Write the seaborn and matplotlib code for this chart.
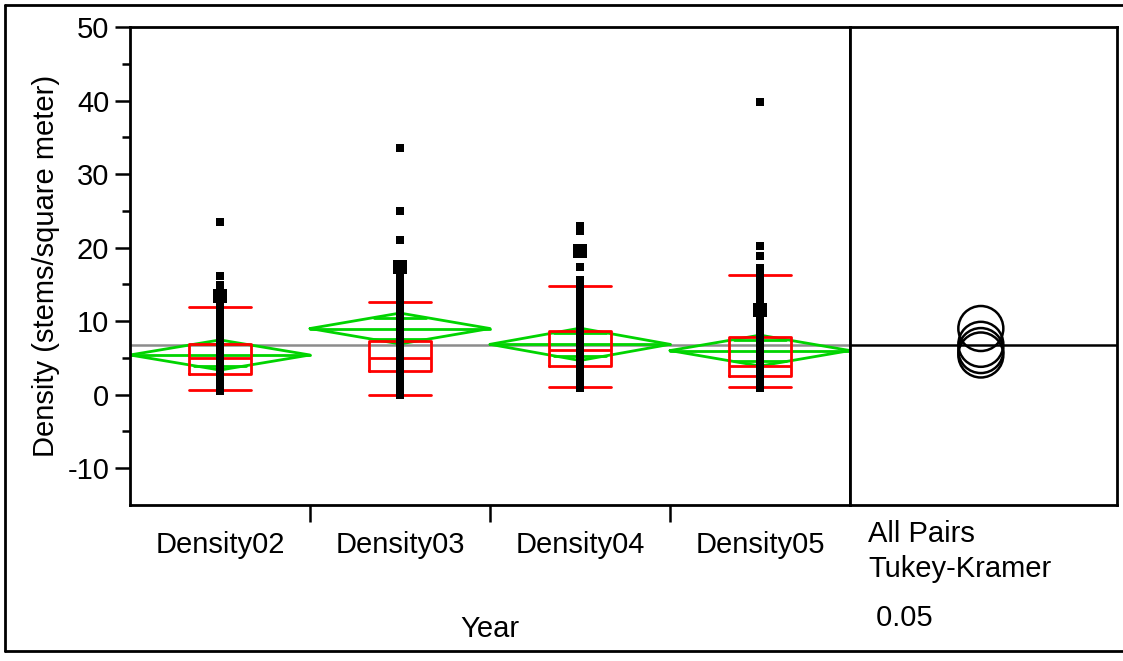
import numpy as np
import pandas as pd
import matplotlib.pyplot as plt
from matplotlib.lines import Line2D
from matplotlib.ticker import FixedLocator
import seaborn as sns

years = ['Density02', 'Density03', 'Density04', 'Density05']

# stem densities (small squares)
pts02 = [0.5, 0.9, 1.3, 1.6, 2.0, 2.4, 2.7, 3.1, 3.5, 3.8, 4.2, 4.6, 5.0, 5.3,
         5.7, 6.1, 6.5, 6.9, 7.3, 7.7, 8.1, 8.6, 9.0, 9.5, 10.0, 10.4, 10.9,
         11.4, 11.9, 12.3, 12.8, 14.0, 14.3, 14.9, 16.1, 23.5]
pts03 = [-0.1, 0.3, 0.7, 1.1, 1.5, 1.9, 2.3, 2.7, 3.1, 3.5, 3.9, 4.3, 4.7, 5.1,
         5.5, 5.9, 6.3, 6.7, 7.1, 7.5, 7.9, 8.3, 8.7, 9.1, 9.5, 9.9, 10.3, 10.7,
         11.1, 11.5, 11.9, 12.3, 12.8, 13.3, 13.8, 14.3, 14.8, 15.3, 15.7, 16.1,
         21.0, 25.0, 33.6]
pts04 = [0.9, 1.3, 1.7, 2.1, 2.5, 2.9, 3.3, 3.7, 4.1, 4.5, 4.9, 5.3, 5.7, 6.1,
         6.5, 6.9, 7.3, 7.7, 8.1, 8.5, 8.9, 9.3, 9.7, 10.1, 10.5, 10.9, 11.3,
         11.7, 12.1, 12.5, 12.9, 13.4, 13.9, 14.4, 14.9, 15.3, 15.6, 17.3,
         22.3, 22.9]
pts05 = [0.9, 1.3, 1.7, 2.1, 2.5, 2.9, 3.3, 3.7, 4.1, 4.5, 4.9, 5.3, 5.7, 6.1,
         6.5, 6.9, 7.3, 7.7, 8.1, 8.5, 8.9, 9.3, 9.7, 10.1, 10.5, 10.9, 11.3,
         11.7, 12.1, 12.5, 12.9, 13.4, 13.9, 14.4, 14.9, 15.4, 15.9, 16.4,
         16.8, 17.2, 18.8, 20.2, 39.8]
# values shown as large squares
big_pts = [13.4, 17.3, 19.5, 11.5]

# box plot summaries
box_low = [0.7, 0.0, 1.0, 1.05]
box_q1 = [2.8, 3.25, 3.95, 2.5]
box_med = [5.0, 5.0, 6.1, 3.85]
box_q3 = [6.9, 7.25, 8.7, 7.9]
box_high = [11.9, 12.6, 14.8, 16.25]

# means diamonds (mean, 95% CI half width)
means = [5.4, 9.0, 6.85, 6.0]
ci_half = [2.05, 2.1, 2.2, 2.1]
grand_mean = 6.8

sns.set_theme(style='white')
plt.rcParams['font.family'] = ['Liberation Sans', 'DejaVu Sans']
plt.rcParams.update({'font.size': 21, 'text.color': 'black',
                     'axes.labelcolor': 'black', 'xtick.color': 'black',
                     'ytick.color': 'black', 'axes.unicode_minus': False})

W, H = 1123, 661
fig = plt.figure(figsize=(W / 100, H / 100), dpi=100)
ax = fig.add_axes([130 / W, 156 / H, 720 / W, 478 / H])
ax2 = fig.add_axes([850 / W, 156 / H, 267 / W, 478 / H])

all_pts = [pts02, pts03, pts04, pts05]
pts = pd.DataFrame({'Year': np.repeat(years, [len(p) for p in all_pts]),
                    'Density': np.concatenate(all_pts)})
big = pd.DataFrame({'Year': years, 'Density': big_pts})
boxes = pd.DataFrame({'Year': np.repeat(years, 5),
                      'Density': np.column_stack([box_low, box_q1, box_med,
                                                  box_q3, box_high]).ravel()})

green = '#00d400'
ax.axhline(grand_mean, color='#8c8c8c', lw=1.8, zorder=1)
k = 1 / np.sqrt(2)
for i, (m, h) in enumerate(zip(means, ci_half)):
    ax.plot([i - .5, i, i + .5, i, i - .5], [m, m + h, m, m - h, m],
            color=green, lw=2, zorder=2)
    ax.plot([i - .5, i + .5], [m, m], color=green, lw=2, zorder=2)
    w = 0.5 * (1 - k)
    for s in (1, -1):
        ax.plot([i - w, i + w], [m + s * h * k] * 2, color=green, lw=2, zorder=2)

sns.boxplot(data=boxes, x='Year', y='Density', order=years, whis=(0, 100),
            fill=False, color='red', width=0.344, capwidths=0.344,
            linewidth=2, showfliers=False, zorder=3, ax=ax)
sns.stripplot(data=pts, x='Year', y='Density', order=years, jitter=False,
              marker='s', color='black', size=5.5, linewidth=0, zorder=5, ax=ax)
sns.stripplot(data=big, x='Year', y='Density', order=years, jitter=False,
              marker='s', color='black', size=9.5, linewidth=0, zorder=5, ax=ax)

ax.set_xlim(-0.5, 3.5)
ax.set_ylim(-15, 50)
ax.yaxis.set_major_locator(FixedLocator([-10, 0, 10, 20, 30, 40, 50]))
ax.yaxis.set_minor_locator(FixedLocator([-5, 5, 15, 25, 35, 45]))
ax.xaxis.set_minor_locator(FixedLocator([0.5, 1.5, 2.5]))
ax.tick_params(axis='y', which='major', left=True, length=11, width=1.8, pad=4, labelsize=21)
ax.tick_params(axis='y', which='minor', left=True, length=6, width=1.8)
ax.tick_params(axis='x', which='major', bottom=True, length=0, pad=19, labelsize=21)
ax.tick_params(axis='x', which='minor', bottom=True, length=12, width=1.8)
ax.set_ylabel('Density (stems/square meter)', fontsize=21, labelpad=5)
ax.set_xlabel('Year', fontsize=21, labelpad=40)

ax2.axhline(grand_mean, color='black', lw=1.8)
ax2.scatter([0.49] * len(means), means, s=1050, facecolors='none',
            edgecolors='black', linewidths=1.8, zorder=3)
ax2.set_xlim(0, 1)
ax2.set_ylim(-15, 50)
ax2.set_xticks([])
ax2.set_yticks([])

for a in (ax, ax2):
    for sp in a.spines.values():
        sp.set_color('black')
        sp.set_linewidth(2)

fig.text(868 / W, 1 - 542 / H, 'All Pairs', fontsize=21, va='baseline')
fig.text(868 / W, 1 - 577 / H, 'Tukey-Kramer', fontsize=21, va='baseline')
fig.text(868 / W, 1 - 626 / H, ' 0.05', fontsize=21, va='baseline')

# outer frame
for xs, ys in [([5, 5], [5, 651]), ([5, W + 5], [5, 5]), ([5, W + 5], [651, 651])]:
    fig.add_artist(Line2D([x / W for x in xs], [1 - y / H for y in ys],
                          transform=fig.transFigure, color='black', lw=2))

fig.savefig('out.png', dpi=100)
